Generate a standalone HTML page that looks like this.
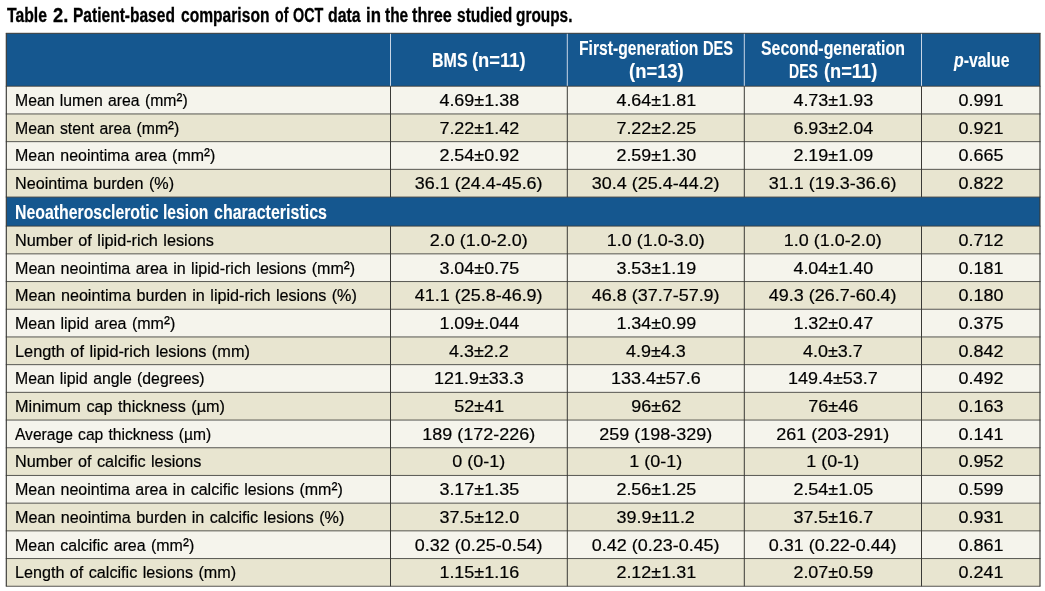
<!DOCTYPE html>
<html lang="en"><head><meta charset="utf-8"><title>Table 2</title>
<style>
html,body{margin:0;padding:0;background:#fff;}
body{width:1045px;height:591px;position:relative;overflow:hidden;font-family:"Liberation Sans",Arial,sans-serif;color:#000;}
.abs{position:absolute;}
.x{position:absolute;white-space:nowrap;line-height:1;transform-origin:0 0;}
.b{font-weight:bold;font-size:19.5px;}
.b.k{-webkit-text-stroke:0.3px #000;}
.b.w{-webkit-text-stroke:0.1px #fff;}
.n{font-size:16.8px;word-spacing:1px;-webkit-text-stroke:0.2px #000;}
.sq{font-size:1.12em;line-height:0;vertical-align:-0.4px;}
.k{color:#000;}
.w{color:#fff;}
.cell{-webkit-text-stroke:0.2px #000;position:absolute;font-size:16.8px;line-height:1;white-space:nowrap;text-align:center;}
.cell span{display:inline-block;transform:scaleX(1.07);}
.vl{position:absolute;width:1px;}
.hl{position:absolute;height:1px;}
</style></head><body>

<svg class="abs" style="left:0;top:0" width="1045" height="591" viewBox="0 0 1045 591">
<rect x="6.3" y="33.3" width="1033.70" height="53.00" fill="#15578f"/>
<rect x="6.3" y="86.30" width="1033.70" height="27.70" fill="#f5f4ec"/>
<rect x="6.3" y="114.00" width="1033.70" height="27.70" fill="#e8e5d0"/>
<rect x="6.3" y="141.70" width="1033.70" height="27.70" fill="#f5f4ec"/>
<rect x="6.3" y="169.40" width="1033.70" height="27.70" fill="#e8e5d0"/>
<rect x="6.3" y="197.10" width="1033.70" height="29.10" fill="#15578f"/>
<rect x="6.3" y="226.20" width="1033.70" height="27.70" fill="#e8e5d0"/>
<rect x="6.3" y="253.90" width="1033.70" height="27.70" fill="#f5f4ec"/>
<rect x="6.3" y="281.60" width="1033.70" height="27.70" fill="#e8e5d0"/>
<rect x="6.3" y="309.30" width="1033.70" height="27.70" fill="#f5f4ec"/>
<rect x="6.3" y="337.00" width="1033.70" height="27.70" fill="#e8e5d0"/>
<rect x="6.3" y="364.70" width="1033.70" height="27.70" fill="#f5f4ec"/>
<rect x="6.3" y="392.40" width="1033.70" height="27.70" fill="#e8e5d0"/>
<rect x="6.3" y="420.10" width="1033.70" height="27.70" fill="#f5f4ec"/>
<rect x="6.3" y="447.80" width="1033.70" height="27.70" fill="#e8e5d0"/>
<rect x="6.3" y="475.50" width="1033.70" height="27.70" fill="#f5f4ec"/>
<rect x="6.3" y="503.20" width="1033.70" height="27.70" fill="#e8e5d0"/>
<rect x="6.3" y="530.90" width="1033.70" height="27.70" fill="#f5f4ec"/>
<rect x="6.3" y="558.60" width="1033.70" height="27.70" fill="#e8e5d0"/>
<g stroke="#3a3a36" stroke-width="1.0" fill="none">
<line x1="5.8" y1="33.3" x2="1040.5" y2="33.3"/>
<line stroke-width="0.85" x1="5.8" y1="86.25" x2="1040.5" y2="86.25"/>
<line stroke-width="0.85" x1="5.8" y1="113.95" x2="1040.5" y2="113.95"/>
<line stroke-width="0.85" x1="5.8" y1="141.65" x2="1040.5" y2="141.65"/>
<line stroke-width="0.85" x1="5.8" y1="169.35" x2="1040.5" y2="169.35"/>
<line stroke-width="0.85" x1="5.8" y1="197.05" x2="1040.5" y2="197.05"/>
<line stroke-width="0.85" x1="5.8" y1="226.15" x2="1040.5" y2="226.15"/>
<line stroke-width="0.85" x1="5.8" y1="253.85" x2="1040.5" y2="253.85"/>
<line stroke-width="0.85" x1="5.8" y1="281.55" x2="1040.5" y2="281.55"/>
<line stroke-width="0.85" x1="5.8" y1="309.25" x2="1040.5" y2="309.25"/>
<line stroke-width="0.85" x1="5.8" y1="336.95" x2="1040.5" y2="336.95"/>
<line stroke-width="0.85" x1="5.8" y1="364.65" x2="1040.5" y2="364.65"/>
<line stroke-width="0.85" x1="5.8" y1="392.35" x2="1040.5" y2="392.35"/>
<line stroke-width="0.85" x1="5.8" y1="420.05" x2="1040.5" y2="420.05"/>
<line stroke-width="0.85" x1="5.8" y1="447.75" x2="1040.5" y2="447.75"/>
<line stroke-width="0.85" x1="5.8" y1="475.45" x2="1040.5" y2="475.45"/>
<line stroke-width="0.85" x1="5.8" y1="503.15" x2="1040.5" y2="503.15"/>
<line stroke-width="0.85" x1="5.8" y1="530.85" x2="1040.5" y2="530.85"/>
<line stroke-width="0.85" x1="5.8" y1="558.55" x2="1040.5" y2="558.55"/>
<line stroke-width="0.85" x1="5.8" y1="586.25" x2="1040.5" y2="586.25"/>
<line stroke-width="1.15" x1="6.3" y1="33.3" x2="6.3" y2="586.30"/>
<line x1="390.5" y1="86.30" x2="390.5" y2="197.10"/>
<line x1="390.5" y1="226.20" x2="390.5" y2="586.30"/>
<line x1="567.3" y1="86.30" x2="567.3" y2="197.10"/>
<line x1="567.3" y1="226.20" x2="567.3" y2="586.30"/>
<line x1="744.3" y1="86.30" x2="744.3" y2="197.10"/>
<line x1="744.3" y1="226.20" x2="744.3" y2="586.30"/>
<line x1="921.5" y1="86.30" x2="921.5" y2="197.10"/>
<line x1="921.5" y1="226.20" x2="921.5" y2="586.30"/>
<line stroke-width="1.15" x1="1040.0" y1="33.3" x2="1040.0" y2="586.30"/>
</g>
<g stroke="#c9d6e6" stroke-width="1.0" fill="none">
<line x1="390.5" y1="33.8" x2="390.5" y2="85.80"/>
<line x1="567.3" y1="33.8" x2="567.3" y2="85.80"/>
<line x1="744.3" y1="33.8" x2="744.3" y2="85.80"/>
<line x1="921.5" y1="33.8" x2="921.5" y2="85.80"/>
</g></svg>
<span class="x b k" id="t0" style="left:7.00px;top:5.99px;transform:scaleX(0.8089)">Table</span>
<span class="x b k" id="t1" style="left:53.00px;top:5.99px;transform:scaleX(0.9381)">2.</span>
<span class="x b k" id="t2" style="left:73.00px;top:5.99px;transform:scaleX(0.7969)">Patient-based</span>
<span class="x b k" id="t3" style="left:181.00px;top:5.99px;transform:scaleX(0.8002)">comparison</span>
<span class="x b k" id="t4" style="left:275.00px;top:5.99px;transform:scaleX(0.7242)">of</span>
<span class="x b k" id="t5" style="left:293.00px;top:5.99px;transform:scaleX(0.7362)">OCT</span>
<span class="x b k" id="t6" style="left:328.00px;top:5.99px;transform:scaleX(0.8145)">data</span>
<span class="x b k" id="t7" style="left:366.00px;top:5.99px;transform:scaleX(0.8606)">in</span>
<span class="x b k" id="t8" style="left:385.00px;top:5.99px;transform:scaleX(0.7933)">the</span>
<span class="x b k" id="t9" style="left:412.00px;top:5.99px;transform:scaleX(0.8324)">three</span>
<span class="x b k" id="t10" style="left:457.00px;top:5.99px;transform:scaleX(0.7953)">studied</span>
<span class="x b k" id="t11" style="left:516.00px;top:5.99px;transform:scaleX(0.7896)">groups.</span>
<span class="x b w" id="h0" style="left:432.00px;top:50.99px;transform:scaleX(0.8212)">BMS</span>
<span class="x b w" id="h1" style="left:472.00px;top:50.99px;transform:scaleX(0.9413)">(n=11)</span>
<span class="x b w" id="h2" style="left:579.00px;top:39.29px;transform:scaleX(0.8037)">First-generation</span>
<span class="x b w" id="h3" style="left:703.00px;top:39.29px;transform:scaleX(0.7518)">DES</span>
<span class="x b w" id="h4" style="left:629.00px;top:62.19px;transform:scaleX(0.9441)">(n=13)</span>
<span class="x b w" id="h5" style="left:761.00px;top:39.29px;transform:scaleX(0.8146)">Second-generation</span>
<span class="x b w" id="h6" style="left:789.00px;top:62.19px;transform:scaleX(0.7206)">DES</span>
<span class="x b w" id="h7" style="left:824.00px;top:62.19px;transform:scaleX(0.9353)">(n=11)</span>
<span class="x b w" id="h8" style="left:954.00px;top:50.99px;transform:scaleX(0.8121)"><i>p</i>-value</span>
<span class="x b w" id="s0" style="left:15.00px;top:203.49px;transform:scaleX(0.8126)">Neoatherosclerotic</span>
<span class="x b w" id="s1" style="left:163.00px;top:203.49px;transform:scaleX(0.8051)">lesion</span>
<span class="x b w" id="s2" style="left:214.00px;top:203.49px;transform:scaleX(0.8204)">characteristics</span>
<span class="x n k" id="l0" style="left:15.00px;top:92.91px;transform:scaleX(0.9399)">Mean lumen area (mm<span class="sq">²</span>)</span>
<span class="x n k" id="l1" style="left:15.00px;top:120.61px;transform:scaleX(0.9423)">Mean stent area (mm<span class="sq">²</span>)</span>
<span class="x n k" id="l2" style="left:15.00px;top:148.31px;transform:scaleX(0.9504)">Mean neointima area (mm<span class="sq">²</span>)</span>
<span class="x n k" id="l3" style="left:15.00px;top:176.01px;transform:scaleX(0.9631)">Neointima burden (%)</span>
<span class="x n k" id="l5" style="left:15.00px;top:232.81px;transform:scaleX(0.9682)">Number of lipid-rich lesions</span>
<span class="x n k" id="l6" style="left:15.00px;top:260.51px;transform:scaleX(0.9569)">Mean neointima area in lipid-rich lesions (mm<span class="sq">²</span>)</span>
<span class="x n k" id="l7" style="left:15.00px;top:288.21px;transform:scaleX(0.9634)">Mean neointima burden in lipid-rich lesions (%)</span>
<span class="x n k" id="l8" style="left:15.00px;top:315.91px;transform:scaleX(0.9549)">Mean lipid area (mm<span class="sq">²</span>)</span>
<span class="x n k" id="l9" style="left:15.00px;top:343.61px;transform:scaleX(0.9713)">Length of lipid-rich lesions (mm)</span>
<span class="x n k" id="l10" style="left:15.00px;top:371.31px;transform:scaleX(0.9401)">Mean lipid angle (degrees)</span>
<span class="x n k" id="l11" style="left:15.00px;top:399.01px;transform:scaleX(0.9684)">Minimum cap thickness (µm)</span>
<span class="x n k" id="l12" style="left:15.00px;top:426.71px;transform:scaleX(0.9295)">Average cap thickness (µm)</span>
<span class="x n k" id="l13" style="left:15.00px;top:454.41px;transform:scaleX(0.9646)">Number of calcific lesions</span>
<span class="x n k" id="l14" style="left:15.00px;top:482.11px;transform:scaleX(0.9545)">Mean neointima area in calcific lesions (mm<span class="sq">²</span>)</span>
<span class="x n k" id="l15" style="left:15.00px;top:509.81px;transform:scaleX(0.9609)">Mean neointima burden in calcific lesions (%)</span>
<span class="x n k" id="l16" style="left:15.00px;top:537.51px;transform:scaleX(0.9517)">Mean calcific area (mm<span class="sq">²</span>)</span>
<span class="x n k" id="l17" style="left:15.00px;top:565.21px;transform:scaleX(0.9625)">Length of calcific lesions (mm)</span>
<div class="cell" style="left:390.5px;width:176.79999999999995px;top:92.91px"><span>4.69±1.38</span></div>
<div class="cell" style="left:567.3px;width:177.0px;top:92.91px"><span>4.64±1.81</span></div>
<div class="cell" style="left:744.3px;width:177.20000000000005px;top:92.91px"><span>4.73±1.93</span></div>
<div class="cell" style="left:921.5px;width:118.5px;top:92.91px"><span>0.991</span></div>
<div class="cell" style="left:390.5px;width:176.79999999999995px;top:120.61px"><span>7.22±1.42</span></div>
<div class="cell" style="left:567.3px;width:177.0px;top:120.61px"><span>7.22±2.25</span></div>
<div class="cell" style="left:744.3px;width:177.20000000000005px;top:120.61px"><span>6.93±2.04</span></div>
<div class="cell" style="left:921.5px;width:118.5px;top:120.61px"><span>0.921</span></div>
<div class="cell" style="left:390.5px;width:176.79999999999995px;top:148.31px"><span>2.54±0.92</span></div>
<div class="cell" style="left:567.3px;width:177.0px;top:148.31px"><span>2.59±1.30</span></div>
<div class="cell" style="left:744.3px;width:177.20000000000005px;top:148.31px"><span>2.19±1.09</span></div>
<div class="cell" style="left:921.5px;width:118.5px;top:148.31px"><span>0.665</span></div>
<div class="cell" style="left:390.5px;width:176.79999999999995px;top:176.01px"><span>36.1 (24.4-45.6)</span></div>
<div class="cell" style="left:567.3px;width:177.0px;top:176.01px"><span>30.4 (25.4-44.2)</span></div>
<div class="cell" style="left:744.3px;width:177.20000000000005px;top:176.01px"><span>31.1 (19.3-36.6)</span></div>
<div class="cell" style="left:921.5px;width:118.5px;top:176.01px"><span>0.822</span></div>
<div class="cell" style="left:390.5px;width:176.79999999999995px;top:232.81px"><span>2.0 (1.0-2.0)</span></div>
<div class="cell" style="left:567.3px;width:177.0px;top:232.81px"><span>1.0 (1.0-3.0)</span></div>
<div class="cell" style="left:744.3px;width:177.20000000000005px;top:232.81px"><span>1.0 (1.0-2.0)</span></div>
<div class="cell" style="left:921.5px;width:118.5px;top:232.81px"><span>0.712</span></div>
<div class="cell" style="left:390.5px;width:176.79999999999995px;top:260.51px"><span>3.04±0.75</span></div>
<div class="cell" style="left:567.3px;width:177.0px;top:260.51px"><span>3.53±1.19</span></div>
<div class="cell" style="left:744.3px;width:177.20000000000005px;top:260.51px"><span>4.04±1.40</span></div>
<div class="cell" style="left:921.5px;width:118.5px;top:260.51px"><span>0.181</span></div>
<div class="cell" style="left:390.5px;width:176.79999999999995px;top:288.21px"><span>41.1 (25.8-46.9)</span></div>
<div class="cell" style="left:567.3px;width:177.0px;top:288.21px"><span>46.8 (37.7-57.9)</span></div>
<div class="cell" style="left:744.3px;width:177.20000000000005px;top:288.21px"><span>49.3 (26.7-60.4)</span></div>
<div class="cell" style="left:921.5px;width:118.5px;top:288.21px"><span>0.180</span></div>
<div class="cell" style="left:390.5px;width:176.79999999999995px;top:315.91px"><span>1.09±.044</span></div>
<div class="cell" style="left:567.3px;width:177.0px;top:315.91px"><span>1.34±0.99</span></div>
<div class="cell" style="left:744.3px;width:177.20000000000005px;top:315.91px"><span>1.32±0.47</span></div>
<div class="cell" style="left:921.5px;width:118.5px;top:315.91px"><span>0.375</span></div>
<div class="cell" style="left:390.5px;width:176.79999999999995px;top:343.61px"><span>4.3±2.2</span></div>
<div class="cell" style="left:567.3px;width:177.0px;top:343.61px"><span>4.9±4.3</span></div>
<div class="cell" style="left:744.3px;width:177.20000000000005px;top:343.61px"><span>4.0±3.7</span></div>
<div class="cell" style="left:921.5px;width:118.5px;top:343.61px"><span>0.842</span></div>
<div class="cell" style="left:390.5px;width:176.79999999999995px;top:371.31px"><span>121.9±33.3</span></div>
<div class="cell" style="left:567.3px;width:177.0px;top:371.31px"><span>133.4±57.6</span></div>
<div class="cell" style="left:744.3px;width:177.20000000000005px;top:371.31px"><span>149.4±53.7</span></div>
<div class="cell" style="left:921.5px;width:118.5px;top:371.31px"><span>0.492</span></div>
<div class="cell" style="left:390.5px;width:176.79999999999995px;top:399.01px"><span>52±41</span></div>
<div class="cell" style="left:567.3px;width:177.0px;top:399.01px"><span>96±62</span></div>
<div class="cell" style="left:744.3px;width:177.20000000000005px;top:399.01px"><span>76±46</span></div>
<div class="cell" style="left:921.5px;width:118.5px;top:399.01px"><span>0.163</span></div>
<div class="cell" style="left:390.5px;width:176.79999999999995px;top:426.71px"><span>189 (172-226)</span></div>
<div class="cell" style="left:567.3px;width:177.0px;top:426.71px"><span>259 (198-329)</span></div>
<div class="cell" style="left:744.3px;width:177.20000000000005px;top:426.71px"><span>261 (203-291)</span></div>
<div class="cell" style="left:921.5px;width:118.5px;top:426.71px"><span>0.141</span></div>
<div class="cell" style="left:390.5px;width:176.79999999999995px;top:454.41px"><span>0 (0-1)</span></div>
<div class="cell" style="left:567.3px;width:177.0px;top:454.41px"><span>1 (0-1)</span></div>
<div class="cell" style="left:744.3px;width:177.20000000000005px;top:454.41px"><span>1 (0-1)</span></div>
<div class="cell" style="left:921.5px;width:118.5px;top:454.41px"><span>0.952</span></div>
<div class="cell" style="left:390.5px;width:176.79999999999995px;top:482.11px"><span>3.17±1.35</span></div>
<div class="cell" style="left:567.3px;width:177.0px;top:482.11px"><span>2.56±1.25</span></div>
<div class="cell" style="left:744.3px;width:177.20000000000005px;top:482.11px"><span>2.54±1.05</span></div>
<div class="cell" style="left:921.5px;width:118.5px;top:482.11px"><span>0.599</span></div>
<div class="cell" style="left:390.5px;width:176.79999999999995px;top:509.81px"><span>37.5±12.0</span></div>
<div class="cell" style="left:567.3px;width:177.0px;top:509.81px"><span>39.9±11.2</span></div>
<div class="cell" style="left:744.3px;width:177.20000000000005px;top:509.81px"><span>37.5±16.7</span></div>
<div class="cell" style="left:921.5px;width:118.5px;top:509.81px"><span>0.931</span></div>
<div class="cell" style="left:390.5px;width:176.79999999999995px;top:537.51px"><span>0.32 (0.25-0.54)</span></div>
<div class="cell" style="left:567.3px;width:177.0px;top:537.51px"><span>0.42 (0.23-0.45)</span></div>
<div class="cell" style="left:744.3px;width:177.20000000000005px;top:537.51px"><span>0.31 (0.22-0.44)</span></div>
<div class="cell" style="left:921.5px;width:118.5px;top:537.51px"><span>0.861</span></div>
<div class="cell" style="left:390.5px;width:176.79999999999995px;top:565.21px"><span>1.15±1.16</span></div>
<div class="cell" style="left:567.3px;width:177.0px;top:565.21px"><span>2.12±1.31</span></div>
<div class="cell" style="left:744.3px;width:177.20000000000005px;top:565.21px"><span>2.07±0.59</span></div>
<div class="cell" style="left:921.5px;width:118.5px;top:565.21px"><span>0.241</span></div>
</body></html>
